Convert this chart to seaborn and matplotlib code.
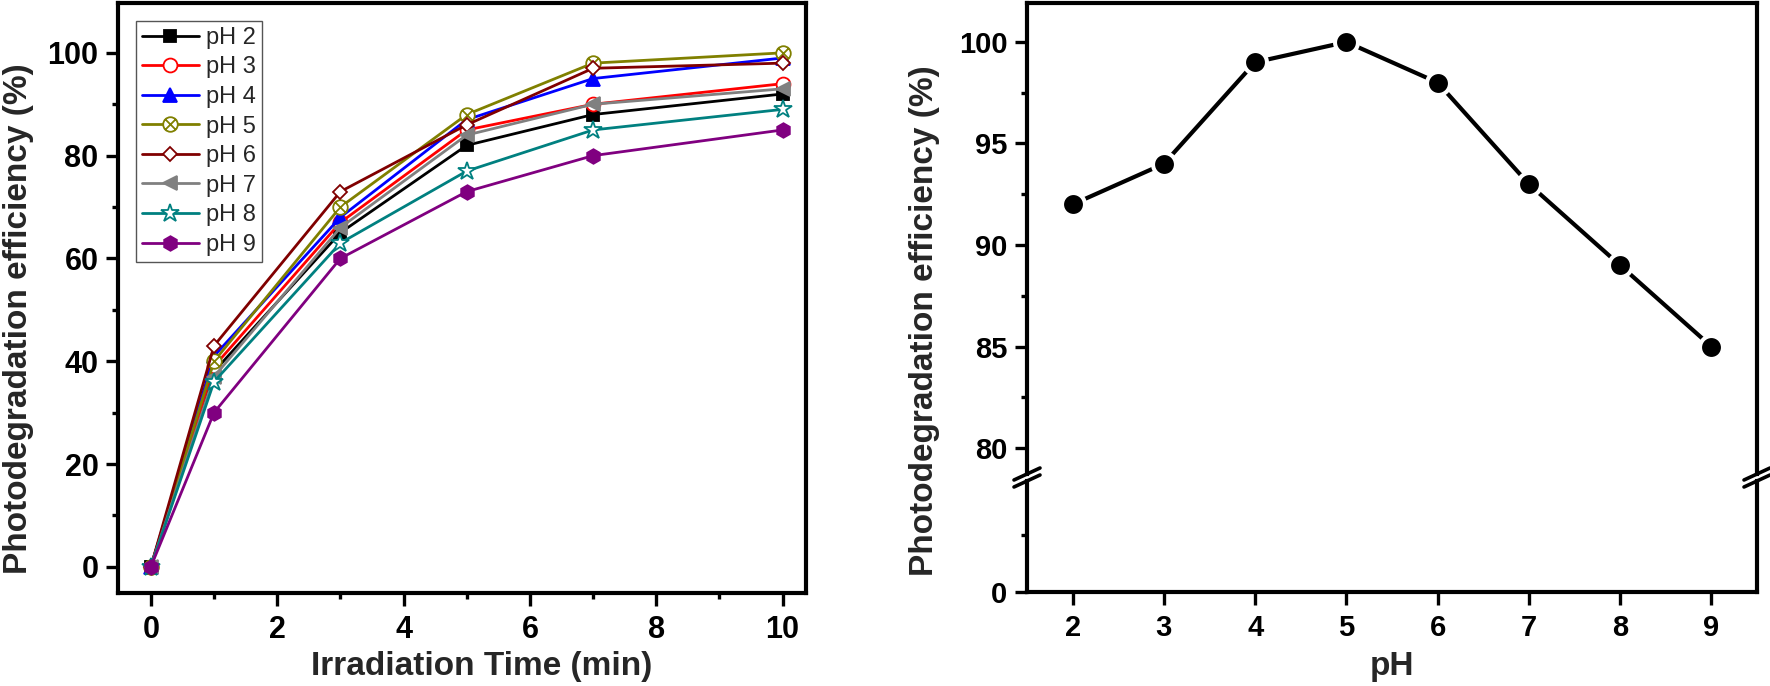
"""
pH 对光催化降解效率影响的双面板图：左图为不同 pH 下降解效率随光照时间变化，
右图为光照 10 min 时降解效率随 pH 的变化（y 轴断开）。
"""

import matplotlib

matplotlib.use("Agg")
import matplotlib.pyplot as plt
import seaborn as sns
from matplotlib.lines import Line2D
from matplotlib.path import Path
from matplotlib.ticker import MultipleLocator

FIG_W, FIG_H = 1770, 686
OUTPUT_PATH = "out.png"

# ---- 左图数据：光照时间 (min) 与各 pH 下的降解效率 (%) ----
IRRADIATION_TIME = [0, 1, 3, 5, 7, 10]
SERIES_LABELS = ["pH 2", "pH 3", "pH 4", "pH 5", "pH 6", "pH 7", "pH 8", "pH 9"]
EFF_PH2 = [0, 38, 65, 82, 88, 92]
EFF_PH3 = [0, 39, 67, 85, 90, 94]
EFF_PH4 = [0, 41, 68, 87, 95, 99]
EFF_PH5 = [0, 40, 70, 88, 98, 100]
EFF_PH6 = [0, 43, 73, 86, 97, 98]
EFF_PH7 = [0, 37, 66, 84, 90, 93]
EFF_PH8 = [0, 36, 63, 77, 85, 89]
EFF_PH9 = [0, 30, 60, 73, 80, 85]
SERIES_VALUES = [EFF_PH2, EFF_PH3, EFF_PH4, EFF_PH5, EFF_PH6, EFF_PH7, EFF_PH8, EFF_PH9]

# ---- 右图数据：pH 与最终降解效率 (%) ----
PH_VALUES = [2, 3, 4, 5, 6, 7, 8, 9]
FINAL_EFFICIENCY = [92, 94, 99, 100, 98, 93, 89, 85]


def circle_x_marker() -> Path:
    """Origin 风格的“圆圈内加叉”标记。"""
    d = 0.7071
    cross_a = Path([(-d, -d), (d, d)], [Path.MOVETO, Path.LINETO])
    cross_b = Path([(-d, d), (d, -d)], [Path.MOVETO, Path.LINETO])
    return Path.make_compound_path(Path.unit_circle(), cross_a, cross_b)


SERIES_STYLE = [
    dict(color="#000000", marker="s", mfc="#000000", ms=8.5),
    dict(color="#FF0000", marker="o", mfc="white", ms=10),
    dict(color="#0000FF", marker="^", mfc="#0000FF", ms=10),
    dict(color="#808000", marker=circle_x_marker(), mfc="white", ms=10.5),
    dict(color="#800000", marker="D", mfc="white", ms=7.5),
    dict(color="#808080", marker="<", mfc="#808080", ms=10),
    dict(color="#008080", marker="*", mfc="white", ms=13.5),
    dict(color="#800080", marker="h", mfc="#800080", ms=10.5),
]


def px_box(left: float, top: float, right: float, bottom: float) -> list[float]:
    """像素坐标（左上原点）转换为 add_axes 使用的图形比例坐标。"""
    return [left / FIG_W, 1 - bottom / FIG_H, (right - left) / FIG_W, (bottom - top) / FIG_H]


def fig_xy(x: float, y: float) -> tuple[float, float]:
    return x / FIG_W, 1 - y / FIG_H


def style_axis(ax: plt.Axes, labelsize: float) -> None:
    for spine in ax.spines.values():
        spine.set_linewidth(3)
        spine.set_color("black")
    ax.tick_params(which="both", direction="out", width=2.4, colors="black",
                   top=False, right=False, labelsize=labelsize, pad=5)
    ax.tick_params(which="major", length=9)
    ax.tick_params(which="minor", length=4.5)


def draw_break(fig: plt.Figure, x: float, y: float) -> None:
    """在断轴位置画一条斜线（像素坐标）。"""
    x0, y0 = fig_xy(x - 13, y + 6)
    x1, y1 = fig_xy(x + 13, y - 6)
    fig.add_artist(Line2D([x0, x1], [y0, y1], color="black", linewidth=2.6,
                          transform=fig.transFigure, clip_on=False))


def main() -> None:
    sns.set_style("ticks")
    plt.rcParams["font.family"] = ["Liberation Sans", "DejaVu Sans"]
    plt.rcParams["font.weight"] = "bold"
    plt.rcParams["axes.labelweight"] = "bold"

    fig = plt.figure(figsize=(FIG_W / 100, FIG_H / 100), dpi=100)

    # ---------------- 左图 ----------------
    ax = fig.add_axes(px_box(118, 3, 806, 593))
    for label, values, style in zip(SERIES_LABELS, SERIES_VALUES, SERIES_STYLE):
        sns.lineplot(
            x=IRRADIATION_TIME, y=values, ax=ax, label=label,
            color=style["color"], linewidth=2.0,
            marker=style["marker"], markersize=style["ms"],
            markerfacecolor=style["mfc"], markeredgecolor=style["color"],
            markeredgewidth=1.3,
        )
    ax.set_xlim(-0.52, 10.37)
    ax.set_ylim(-5.1, 109.7)
    ax.xaxis.set_major_locator(MultipleLocator(2))
    ax.xaxis.set_minor_locator(MultipleLocator(1))
    ax.yaxis.set_major_locator(MultipleLocator(20))
    ax.yaxis.set_minor_locator(MultipleLocator(10))
    style_axis(ax, 22)
    ax.tick_params(axis="x", pad=7)

    ax.set_xlabel("Irradiation Time (min)", fontsize=24, va="center")
    ax.xaxis.set_label_coords(*fig_xy(482, 666), transform=fig.transFigure)
    ax.set_ylabel("Photodegradation efficiency (%)", fontsize=24, va="center")
    ax.yaxis.set_label_coords(*fig_xy(19, 319), transform=fig.transFigure)

    legend = ax.legend(
        loc="upper left", bbox_to_anchor=fig_xy(136, 21), bbox_transform=fig.transFigure,
        prop={"family": "Liberation Sans", "weight": "normal", "size": 17},
        frameon=True, fancybox=False, edgecolor="#555555", framealpha=1,
        borderpad=0.25, labelspacing=0.32, handlelength=2.4, handletextpad=0.3,
        borderaxespad=0,
    )
    legend.get_frame().set_linewidth(1.0)

    # ---------------- 右图（断轴） ----------------
    ax_top = fig.add_axes(px_box(1027, 3, 1757, 474))
    ax_bot = fig.add_axes(px_box(1027, 481, 1757, 592), sharex=ax_top)

    sns.lineplot(
        x=PH_VALUES, y=FINAL_EFFICIENCY, ax=ax_top, color="black", linewidth=3,
        marker="o", markersize=16.5, markerfacecolor="black",
        markeredgecolor="white", markeredgewidth=2.9,
    )
    ax_top.set_xlim(1.5, 9.5)
    ax_top.set_ylim(78.72, 101.92)
    ax_bot.set_ylim(0, 19.5)
    ax_top.yaxis.set_major_locator(MultipleLocator(5))
    ax_top.yaxis.set_minor_locator(MultipleLocator(2.5))
    ax_bot.yaxis.set_major_locator(MultipleLocator(20))
    ax_bot.yaxis.set_minor_locator(MultipleLocator(10))
    ax_bot.xaxis.set_major_locator(MultipleLocator(1))

    for sub_ax in (ax_top, ax_bot):
        style_axis(sub_ax, 21)
    ax_top.spines["bottom"].set_visible(False)
    ax_bot.spines["top"].set_visible(False)
    ax_top.tick_params(axis="x", which="both", bottom=False, labelbottom=False)
    ax_bot.tick_params(axis="x", pad=7)
    ax_top.set_xlabel("")
    ax_top.set_ylabel("")

    ax_bot.set_xlabel("pH", fontsize=24, va="center")
    ax_bot.xaxis.set_label_coords(*fig_xy(1392, 666), transform=fig.transFigure)
    ax_top.set_ylabel("Photodegradation efficiency (%)", fontsize=24, va="center")
    ax_top.yaxis.set_label_coords(*fig_xy(925, 321), transform=fig.transFigure)

    for spine_x in (1027, 1757):
        draw_break(fig, spine_x, 474)
        draw_break(fig, spine_x, 481)

    fig.savefig(OUTPUT_PATH, dpi=100)
    plt.close(fig)


if __name__ == "__main__":
    main()
